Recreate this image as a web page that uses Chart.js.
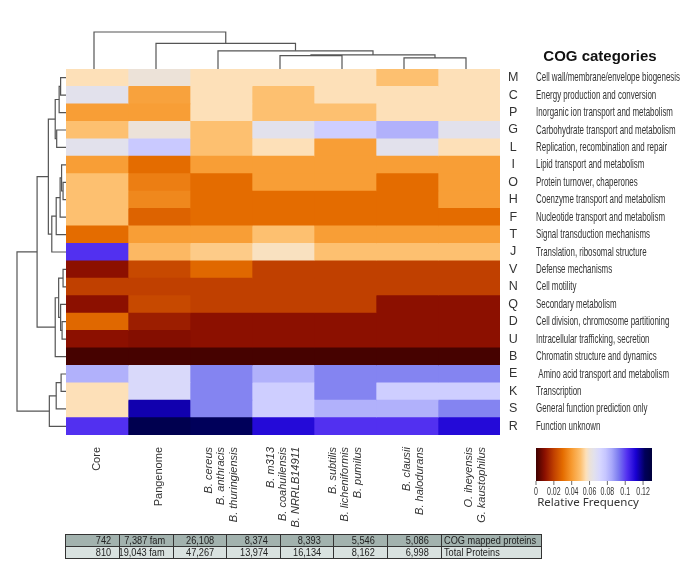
<!DOCTYPE html>
<html>
<head>
<meta charset="utf-8">
<script src="https://cdn.jsdelivr.net/npm/chart.js@4.4.1/dist/chart.umd.min.js"></script>
<style>
  html, body { margin: 0; padding: 0; background: #fff; }
  #wrap { position: relative; width: 685px; height: 579px; }
  #proteinTable {
    position: absolute; left: 65px; top: 534px; width: 476px;
    border-collapse: collapse; table-layout: fixed;
    font: 11.5px "Liberation Sans", Arial, sans-serif; color: #222;
  }
  #proteinTable td {
    border: 1px solid #333; height: 11px; line-height: 11px;
    padding: 0 12px 0 0; text-align: right; white-space: nowrap; overflow: hidden;
  }
  #proteinTable td span {
    display: inline-block; transform: scaleX(0.8); transform-origin: 100% 50%; margin-left: -24px;
  }
  #proteinTable td.lbl { text-align: left; padding: 0 0 0 2px; }
  #proteinTable td.lbl span { transform-origin: 0 50%; margin-left: 0; margin-right: -30px; }
  #proteinTable tr.mapped td { background: #a2b2ae; }
  #proteinTable tr.total td { background: #d9e2e0; }
</style>
</head>
<body>
<div id="wrap">
  <canvas id="cogHeatmap" width="685" height="579"></canvas>
  <table id="proteinTable"></table>
</div>
<script>
// COG categories (rows, in dendrogram order)
const cogLetters = ["M", "C", "P", "G", "L", "I", "O", "H", "F", "T", "J", "V", "N", "Q", "D", "U", "B", "E", "K", "S", "R"];
const cogNames = [
  "Cell wall/membrane/envelope biogenesis",
  "Energy production and conversion",
  "Inorganic ion transport and metabolism",
  "Carbohydrate transport and metabolism",
  "Replication, recombination and repair",
  "Lipid transport and metabolism",
  "Protein turnover, chaperones",
  "Coenzyme transport and metabolism",
  "Nucleotide transport and metabolism",
  "Signal transduction mechanisms",
  "Translation, ribosomal structure",
  "Defense mechanisms",
  "Cell motility",
  "Secondary metabolism",
  "Cell division, chromosome partitioning",
  "Intracellular trafficking, secretion",
  "Chromatin structure and dynamics",
  " Amino acid transport and metabolism",
  "Transcription",
  "General function prediction only",
  "Function unknown"
];

// genome groups (columns)
const groupLabels = [
  ["Core"],
  ["Pangenome"],
  ["B. cereus", "B. anthracis", "B. thuringiensis"],
  ["B. m313", "B. coahuilensis", "B. NRRLB14911"],
  ["B. subtilis", "B. licheniformis", "B. pumilus"],
  ["B. clausii", "B. halodurans"],
  ["O. iheyensis", "G. kaustophilus"]
];

// relative frequency of each COG category, one array per column
const coreFreq      = [0.056, 0.065, 0.041, 0.050, 0.065, 0.041, 0.050, 0.050, 0.050, 0.030, 0.102, 0.010, 0.020, 0.010, 0.029, 0.010, 0.001, 0.083, 0.056, 0.056, 0.102];
const panFreq       = [0.060, 0.042, 0.041, 0.060, 0.077, 0.030, 0.034, 0.036, 0.028, 0.041, 0.048, 0.022, 0.020, 0.022, 0.013, 0.009, 0.001, 0.070, 0.070, 0.115, 0.125];
const cereusFreq    = [0.056, 0.056, 0.056, 0.050, 0.050, 0.041, 0.030, 0.030, 0.030, 0.041, 0.052, 0.029, 0.020, 0.020, 0.010, 0.010, 0.001, 0.091, 0.091, 0.091, 0.122];
const m313Freq      = [0.056, 0.050, 0.050, 0.065, 0.056, 0.041, 0.041, 0.030, 0.030, 0.050, 0.057, 0.020, 0.020, 0.020, 0.010, 0.010, 0.001, 0.083, 0.075, 0.075, 0.110];
const subtilisFreq  = [0.056, 0.056, 0.050, 0.075, 0.041, 0.041, 0.041, 0.030, 0.030, 0.041, 0.050, 0.020, 0.020, 0.020, 0.010, 0.010, 0.001, 0.091, 0.091, 0.083, 0.102];
const clausiiFreq   = [0.050, 0.056, 0.056, 0.083, 0.065, 0.041, 0.030, 0.030, 0.030, 0.041, 0.050, 0.020, 0.020, 0.010, 0.010, 0.010, 0.001, 0.091, 0.075, 0.083, 0.102];
const iheyensisFreq = [0.056, 0.056, 0.056, 0.065, 0.056, 0.041, 0.041, 0.041, 0.030, 0.041, 0.050, 0.020, 0.020, 0.010, 0.010, 0.010, 0.001, 0.091, 0.075, 0.091, 0.110];

// protein counts table
const cogMapped = ["742", "7,387 fam", "26,108", "8,374", "8,393", "5,546", "5,086"];
const totalProteins = ["810", "19,043 fam", "47,267", "13,974", "16,134", "8,162", "6,998"];

// dendrograms: [left, right, height], leaves are column / row indexes
const columnTree = [0, [1, [2, [[3, 4, 0.36], [5, 6, 0.30], 0.38], 0.49], 0.69], 1.0];
const rowTree = [
  [
    [
      [[[0, 1, 0.11], 2, 0.14], [3, 4, 0.19], 0.22],
      [[[[5, [6, 7, 0.06], 0.09], 8, 0.12], 9, 0.20], 10, 0.29],
      0.36
    ],
    [[[11, 12, 0.06], [13, [14, 15, 0.08], 0.11], 0.15], 16, 0.22],
    0.59
  ],
  [[[17, 18, 0.10], 19, 0.20], 20, 0.34],
  1.0
];

// colour scale (Relative Frequency)
const cmapStops = [0, 0.010, 0.020, 0.030, 0.040, 0.050, 0.056, 0.060, 0.065, 0.072, 0.078, 0.085, 0.092, 0.102, 0.112, 0.122, 0.130];
const cmapColors = [
  [62, 0, 0], [140, 16, 0], [192, 64, 0], [228, 108, 0], [247, 154, 48], [253, 192, 112],
  [253, 224, 184], [236, 226, 216], [226, 225, 236], [214, 214, 255], [198, 198, 255],
  [168, 168, 250], [126, 126, 240], [82, 48, 240], [24, 0, 210], [0, 0, 90], [0, 0, 60]
];
const legendTicks = [0, 0.02, 0.04, 0.06, 0.08, 0.1, 0.12];

function freqColor(v) {
  let i = 0;
  while (i < cmapStops.length - 2 && v > cmapStops[i + 1]) i++;
  const t = Math.max(0, Math.min(1, (v - cmapStops[i]) / (cmapStops[i + 1] - cmapStops[i])));
  const a = cmapColors[i], b = cmapColors[i + 1];
  const c = a.map((x, k) => Math.round(x + (b[k] - x) * t));
  return `rgb(${c[0]},${c[1]},${c[2]})`;
}

function drawTree(ctx, node, leafPos, heightPos, sideways) {
  if (typeof node === "number") return { p: leafPos(node), q: heightPos(0) };
  const a = drawTree(ctx, node[0], leafPos, heightPos, sideways);
  const b = drawTree(ctx, node[1], leafPos, heightPos, sideways);
  const q = heightPos(node[2]);
  const pt = (p, qq) => (sideways ? [qq, p] : [p, qq]);
  ctx.beginPath();
  ctx.moveTo(...pt(a.p, a.q));
  ctx.lineTo(...pt(a.p, q));
  ctx.lineTo(...pt(b.p, q));
  ctx.lineTo(...pt(b.p, b.q));
  ctx.stroke();
  return { p: (a.p + b.p) / 2, q };
}

function squeezedText(ctx, text, x, y, maxW) {
  const w = ctx.measureText(text).width;
  const sx = w > maxW ? maxW / w : 1;
  ctx.save();
  ctx.translate(x, y);
  ctx.scale(sx, 1);
  ctx.fillText(text, 0, 0);
  ctx.restore();
}

const heatmapExtras = {
  id: "heatmapExtras",
  afterDraw(chart) {
    const { ctx, chartArea: area, scales } = chart;
    const xs = scales.x, ys = scales.y;
    ctx.save();

    // dendrograms
    ctx.strokeStyle = "#555";
    ctx.lineWidth = 1.2;
    drawTree(ctx, columnTree, i => xs.getPixelForValue(i + 0.5) - 3, h => area.top - h * 37, false);
    drawTree(ctx, rowTree, i => ys.getPixelForValue(i), h => area.left - h * 49, true);

    // category descriptions
    ctx.fillStyle = "#333";
    ctx.textBaseline = "middle";
    ctx.textAlign = "left";
    ctx.font = '13px "Liberation Sans", Arial, sans-serif';
    const longest = Math.max(...cogNames.map(n => ctx.measureText(n).width));
    const squeeze = Math.min(1, 144 / longest);
    cogNames.forEach((name, i) => {
      squeezedText(ctx, name, area.right + 36, ys.getPixelForValue(i), ctx.measureText(name).width * squeeze);
    });

    // title
    ctx.fillStyle = "#111";
    ctx.textAlign = "center";
    ctx.font = 'bold 15px "Liberation Sans", Arial, sans-serif';
    ctx.fillText("COG categories", 600, 57);

    // colour bar
    const x0 = 536, x1 = 652, y0 = 448, y1 = 481, vmax = 0.13;
    const grad = ctx.createLinearGradient(x0, 0, x1, 0);
    cmapStops.forEach(s => grad.addColorStop(s / vmax, freqColor(s)));
    ctx.fillStyle = grad;
    ctx.fillRect(x0, y0, x1 - x0, y1 - y0);
    ctx.strokeStyle = "#444";
    ctx.lineWidth = 0.8;
    ctx.fillStyle = "#333";
    ctx.textBaseline = "top";
    ctx.textAlign = "left";
    ctx.font = '10px "Liberation Sans", Arial, sans-serif';
    legendTicks.forEach(t => {
      const tx = x0 + (t / vmax) * (x1 - x0);
      const w = ctx.measureText(String(t)).width * 0.7;
      ctx.beginPath();
      ctx.moveTo(tx, y1);
      ctx.lineTo(tx, y1 + 4);
      ctx.stroke();
      squeezedText(ctx, String(t), tx - w / 2, y1 + 6, w);
    });
    ctx.textAlign = "center";
    ctx.font = '11.5px "Noto Sans", "Open Sans", sans-serif';
    ctx.fillText("Relative Frequency", 588, 497);

    ctx.restore();
  }
};

const columns = [coreFreq, panFreq, cereusFreq, m313Freq, subtilisFreq, clausiiFreq, iheyensisFreq];

new Chart(document.getElementById("cogHeatmap"), {
  type: "bar",
  data: {
    labels: cogLetters,
    datasets: columns.map((freq, c) => ({
      label: groupLabels[c].join(" / "),
      data: freq.map(() => [c, c + 1]),
      backgroundColor: freq.map(freqColor),
      borderWidth: 0,
      grouped: false,
      barPercentage: 1,
      categoryPercentage: 1
    }))
  },
  options: {
    indexAxis: "y",
    responsive: false,
    animation: false,
    events: [],
    layout: { padding: { left: 66, top: 69, right: 163, bottom: 52 } },
    plugins: { legend: { display: false }, tooltip: { enabled: false } },
    scales: {
      x: {
        type: "linear",
        position: "bottom",
        min: 0,
        max: groupLabels.length,
        grid: { display: false },
        border: { display: false },
        afterBuildTicks: scale => {
          scale.ticks = groupLabels.map((lines, i) => ({ value: i + 0.5 - (lines.length === 3 ? 0.2 : 0) }));
        },
        afterFit: scale => { scale.height = 92; },
        ticks: {
          autoSkip: false,
          minRotation: 90,
          maxRotation: 90,
          padding: 4,
          color: "#333",
          font: ctx => ({
            family: '"Liberation Sans", Arial, sans-serif',
            size: 11,
            lineHeight: 1.15,
            style: ctx.index >= 2 ? "italic" : "normal"
          }),
          callback: (value, index) => groupLabels[index]
        }
      },
      y: {
        type: "category",
        position: "right",
        grid: { display: false },
        border: { display: false },
        afterFit: scale => { scale.width = 22; },
        ticks: {
          autoSkip: false,
          crossAlign: "center",
          padding: 0,
          color: "#333",
          font: { family: '"Liberation Sans", Arial, sans-serif', size: 12.5 }
        }
      }
    }
  },
  plugins: [heatmapExtras]
});

// protein count table under the heatmap
const colWidths = [54, 54, 53, 54, 53, 54, 54, 100];
const table = document.getElementById("proteinTable");
[[cogMapped, "COG mapped proteins", "mapped"], [totalProteins, "Total Proteins", "total"]].forEach(([vals, name, cls]) => {
  const tr = document.createElement("tr");
  tr.className = cls;
  vals.concat([name]).forEach((v, i) => {
    const td = document.createElement("td");
    const span = document.createElement("span");
    span.textContent = v;
    td.appendChild(span);
    const pad = i === vals.length ? 2 : (i < 2 ? 8 : 12);
    td.style.width = (colWidths[i] - pad - 1) + "px";
    if (i === vals.length) td.className = "lbl";
    else td.style.paddingRight = pad + "px";
    tr.appendChild(td);
  });
  table.appendChild(tr);
});
</script>
</body>
</html>
